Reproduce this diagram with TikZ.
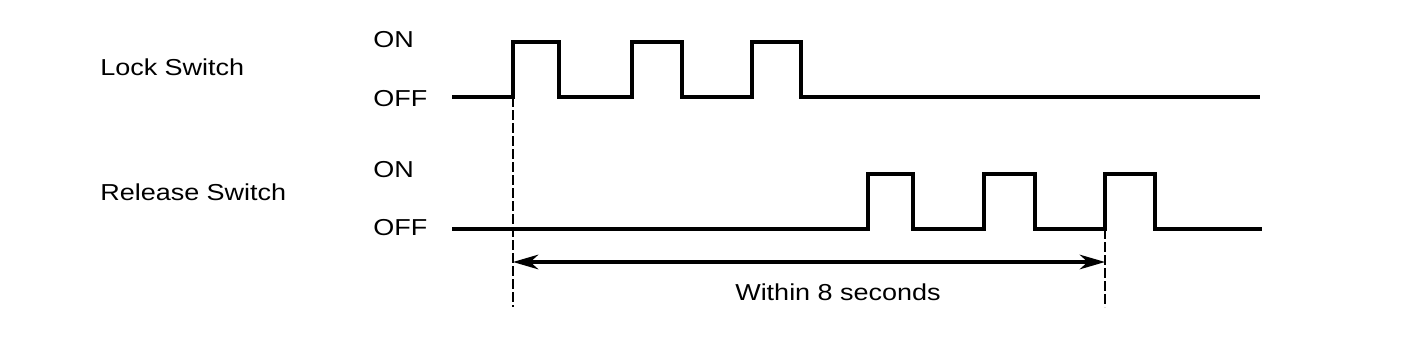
\documentclass[tikz,border=0pt]{standalone}
\usepackage{fontspec}
\newfontfamily\labfont[FakeStretch=1.17]{Liberation Sans}
\usetikzlibrary{arrows.meta}
\begin{document}
\begin{tikzpicture}[x=0.75pt,y=-0.75pt,
  lab/.style={inner sep=0pt,anchor=base west,font=\labfont\fontsize{17.3}{20}\selectfont},
  wave/.style={line width=2.3pt},
  marker/.style={line width=1.7pt,dash pattern=on 7.5pt off 2.25pt},
  span/.style={line width=2.3pt,{Stealth[length=19pt,width=11pt,inset=6pt]}-{Stealth[length=19pt,width=11pt,inset=6pt]}}]
\useasboundingbox (0,0) rectangle (1424,357);
% labels
\node[lab] (lock) at (100,75) {Lock Switch};
\node[lab] (lockon) at (373,47) {ON};
\node[lab] (lockoff) at (373,106) {OFF};
\node[lab] (rel) at (100,200) {Release Switch};
\node[lab] (relon) at (373,177) {ON};
\node[lab] (reloff) at (373,235) {OFF};
\node[lab] (within) at (735,300) {Within 8 seconds};
% key points
\coordinate (startL) at (513,97);
\coordinate (startB) at (513,307);
\coordinate (endL) at (1105,229);
\coordinate (endB) at (1105,307);
\coordinate (arrL) at (513,262);
\coordinate (arrR) at (1105,262);
% lock switch waveform
\draw[wave] (452,97) -- (startL) -- (513,42) -- (559,42) -- (559,97) -- (632,97) -- (632,42)
  -- (682,42) -- (682,97) -- (752,97) -- (752,42) -- (801,42) -- (801,97) -- (1260,97);
% release switch waveform
\draw[wave] (452,229) -- (868,229) -- (868,174) -- (913,174) -- (913,229) -- (984,229) -- (984,174)
  -- (1035,174) -- (1035,229) -- (endL) -- (1105,174) -- (1155,174) -- (1155,229) -- (1262,229);
% markers
\draw[marker] (startL) -- (startB);
\draw[marker] (endL) -- (endB);
% span arrow
\draw[span] (arrL) -- (arrR);
\end{tikzpicture}
\end{document}
